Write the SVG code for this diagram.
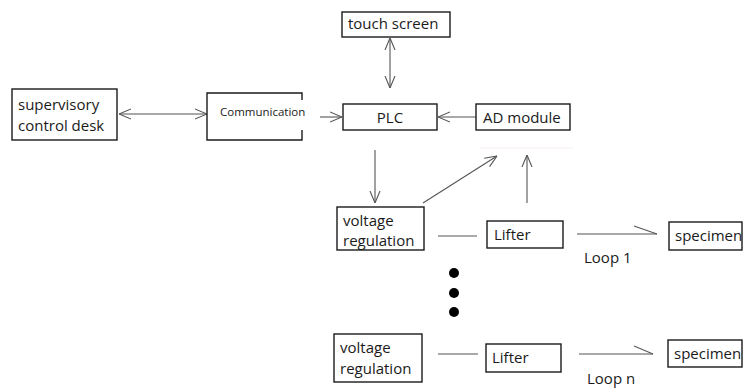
<svg xmlns="http://www.w3.org/2000/svg" width="744" height="389" viewBox="0 0 744 389">
  <defs>
    <style>
      .box { fill: #ffffff; stroke: #1a1a1a; stroke-width: 1.4; }
      .lbl { font-family: "Open Sans", "Noto Sans", "Liberation Sans", sans-serif; font-size: 15px; fill: #1a1a1a; }
      .small { font-size: 11.5px; }
      .wire { fill: none; stroke: #555555; stroke-width: 1.1; }
      .dot { fill: #000000; }
    </style>
    <marker id="arrow" viewBox="0 0 12 12" refX="12" refY="6" markerWidth="12" markerHeight="12" markerUnits="userSpaceOnUse" orient="auto-start-reverse">
      <path d="M0,1 L12,6 L0,11" fill="none" stroke="#555555" stroke-width="1.1"/>
    </marker>
  </defs>

  <rect width="744" height="389" fill="#ffffff"/>

  <!-- connectors -->
  <g id="connectors">
    <line class="wire" x1="119" y1="114" x2="207" y2="114" marker-start="url(#arrow)" marker-end="url(#arrow)"/>
    <line class="wire" x1="320" y1="117" x2="342" y2="117" marker-end="url(#arrow)"/>
    <line class="wire" x1="476" y1="117" x2="438" y2="117" marker-end="url(#arrow)"/>
    <line class="wire" x1="390" y1="38" x2="390" y2="88" marker-start="url(#arrow)" marker-end="url(#arrow)"/>
    <line class="wire" x1="375" y1="150" x2="375" y2="203" marker-end="url(#arrow)"/>
    <line class="wire" x1="423" y1="203" x2="497" y2="156" marker-end="url(#arrow)"/>
    <line class="wire" x1="527" y1="203" x2="527" y2="155" marker-end="url(#arrow)"/>
    <line x1="480" y1="148" x2="573" y2="148" stroke="#f8eef7" stroke-width="1"/>
    <!-- loop 1 -->
    <line class="wire" x1="438" y1="236" x2="477" y2="236"/>
    <line class="wire" x1="577" y1="234" x2="657" y2="234"/>
    <line class="wire" x1="634" y1="226" x2="657" y2="234"/>
    <!-- loop n -->
    <line class="wire" x1="438" y1="354" x2="478" y2="354"/>
    <line class="wire" x1="579" y1="354" x2="653" y2="354"/>
    <line class="wire" x1="634" y1="346" x2="653" y2="354"/>
  </g>

  <g id="supervisory">
    <rect class="box" x="12" y="89" width="105" height="51"/>
    <text class="lbl" x="18" y="110">supervisory</text>
    <text class="lbl" x="18" y="131">control desk</text>
  </g>

  <g id="communication">
    <path class="box" d="M302,100 L302,93 L207,93 L207,140 L302,140 L302,130" fill="#ffffff"/>
    <text class="lbl small" x="220" y="116">Communication</text>
  </g>

  <g id="touch-screen">
    <rect class="box" x="342" y="12" width="108" height="25"/>
    <text class="lbl" x="348" y="29">touch screen</text>
  </g>

  <g id="plc">
    <rect class="box" x="343" y="104" width="94" height="26"/>
    <text class="lbl" x="390" y="123" text-anchor="middle">PLC</text>
  </g>

  <g id="ad-module">
    <rect class="box" x="476" y="104" width="94" height="26"/>
    <text class="lbl" x="483" y="123">AD module</text>
  </g>

  <g id="voltage-regulation-1">
    <rect class="box" x="337" y="207" width="87" height="43"/>
    <text class="lbl" x="343" y="226">voltage</text>
    <text class="lbl" x="343" y="246">regulation</text>
  </g>

  <g id="lifter-1">
    <rect class="box" x="487" y="221" width="76" height="27"/>
    <text class="lbl" x="494" y="240">Lifter</text>
  </g>

  <g id="specimen-1">
    <rect class="box" x="669" y="222" width="73" height="28"/>
    <text class="lbl" x="675" y="241">specimen</text>
  </g>
  <text class="lbl" x="584" y="263">Loop 1</text>

  <g id="ellipsis">
    <circle class="dot" cx="454" cy="273" r="5"/>
    <circle class="dot" cx="454" cy="293" r="5"/>
    <circle class="dot" cx="454" cy="312" r="5"/>
  </g>

  <g id="voltage-regulation-n">
    <rect class="box" x="334" y="334" width="88" height="48"/>
    <text class="lbl" x="340" y="353">voltage</text>
    <text class="lbl" x="340" y="374">regulation</text>
  </g>

  <g id="lifter-n">
    <rect class="box" x="486" y="344" width="75" height="28"/>
    <text class="lbl" x="492" y="363">Lifter</text>
  </g>

  <g id="specimen-n">
    <rect class="box" x="668" y="340" width="74" height="27"/>
    <text class="lbl" x="674" y="359">specimen</text>
  </g>
  <text class="lbl" x="587" y="384">Loop n</text>
</svg>
